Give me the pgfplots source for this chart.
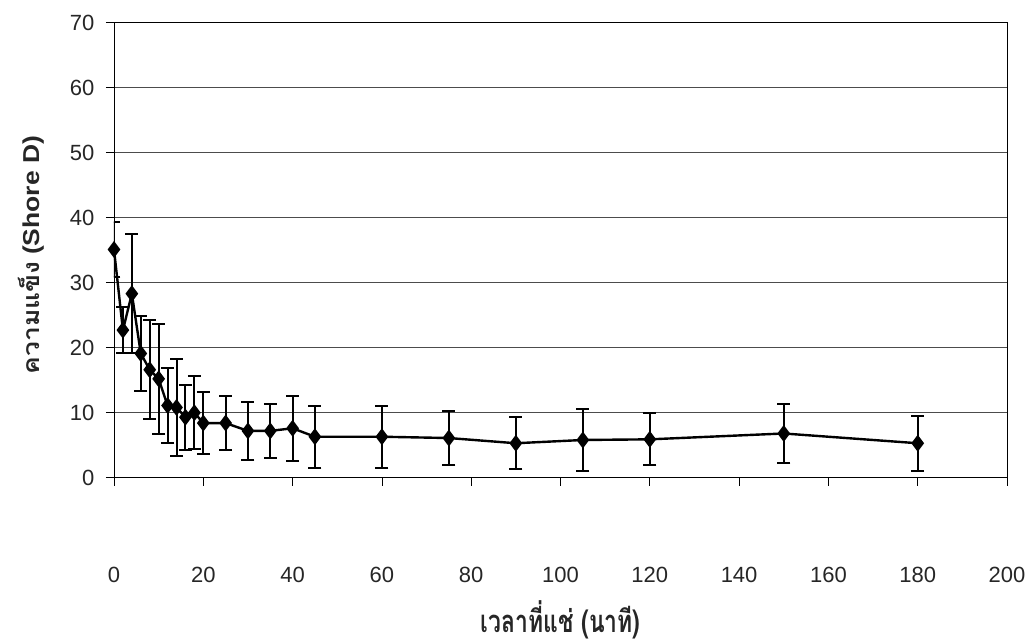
\documentclass[border=0pt]{standalone}
\usepackage{pgfplots}
\pgfplotsset{compat=1.18}
\usepackage{fontspec}
\setmainfont{Liberation Sans}
\newfontfamily\thaiwide[Script=Thai, FakeStretch=1.15]{Loma}
\newfontfamily\latinwide[FakeStretch=1.15]{Liberation Sans}
\newfontfamily\thaicond[Script=Thai, FakeStretch=0.74]{Loma}

% hardness (Shore D) vs. immersion time (min): mean and standard deviation
\pgfplotstableread{
x    y     e
0    35.1  4.2
2    22.7  3.5
4    28.3  9.2
6    19.1  5.7
8    16.6  7.6
10   15.2  8.5
12   11.1  5.7
14   10.8  7.4
16   9.3   5.0
18   10.0  5.6
20   8.4   4.8
25   8.4   4.2
30   7.2   4.5
35   7.2   4.1
40   7.6   5.0
45   6.3   4.8
60   6.3   4.8
75   6.1   4.1
90   5.3   4.0
105  5.8   4.8
120  5.9   4.0
150  6.8   4.5
180  5.3   4.2
}\hardness

\begin{document}
\begin{tikzpicture}
\path[use as bounding box] (-114pt,-165.3pt) rectangle (914pt,477.7pt);
\begin{axis}[
  at={(0,0)}, anchor=south west,
  scale only axis, width=893pt, height=455.2pt,
  xmin=0, xmax=200, ymin=0, ymax=70,
  xtick={0,20,...,200}, ytick={0,10,...,70},
  ymajorgrids,
  grid style={black!70, line width=0.6pt},
  axis line style={black, line width=0.8pt},
  tick pos=left, tick align=outside, major tick length=8pt,
  tick style={black, line width=0.8pt},
  ticklabel style={font=\fontsize{22}{26}\selectfont, text=black!85},
  /pgf/number format/assume math mode=true,
  x tick label style={yshift=-78pt},
  y tick label style={xshift=-8pt},
  xlabel={\bfseries\thaicond เวลาที่แช่ (นาที)},
  ylabel={\bfseries{\thaiwide ความแข็ง} {\latinwide (Shore D)}},
  xlabel style={at={(axis description cs:0.5,0)}, anchor=base, yshift=-155pt,
    inner sep=0pt, font=\fontsize{31}{34}\selectfont, text=black!85},
  ylabel style={at={(axis description cs:0,0.489)}, anchor=center, yshift=83pt,
    font=\fontsize{23}{27}\selectfont, text=black!85},
]
\addplot[black, line width=2.4pt, mark=diamond*, mark size=6.5pt,
  error bars/.cd, y dir=both, y explicit,
  error bar style={line width=2pt},
  error mark options={rotate=90, mark size=6.5pt, line width=2pt}]
  table[x=x, y=y, y error=e] {\hardness};
\end{axis}
\end{tikzpicture}
\end{document}
